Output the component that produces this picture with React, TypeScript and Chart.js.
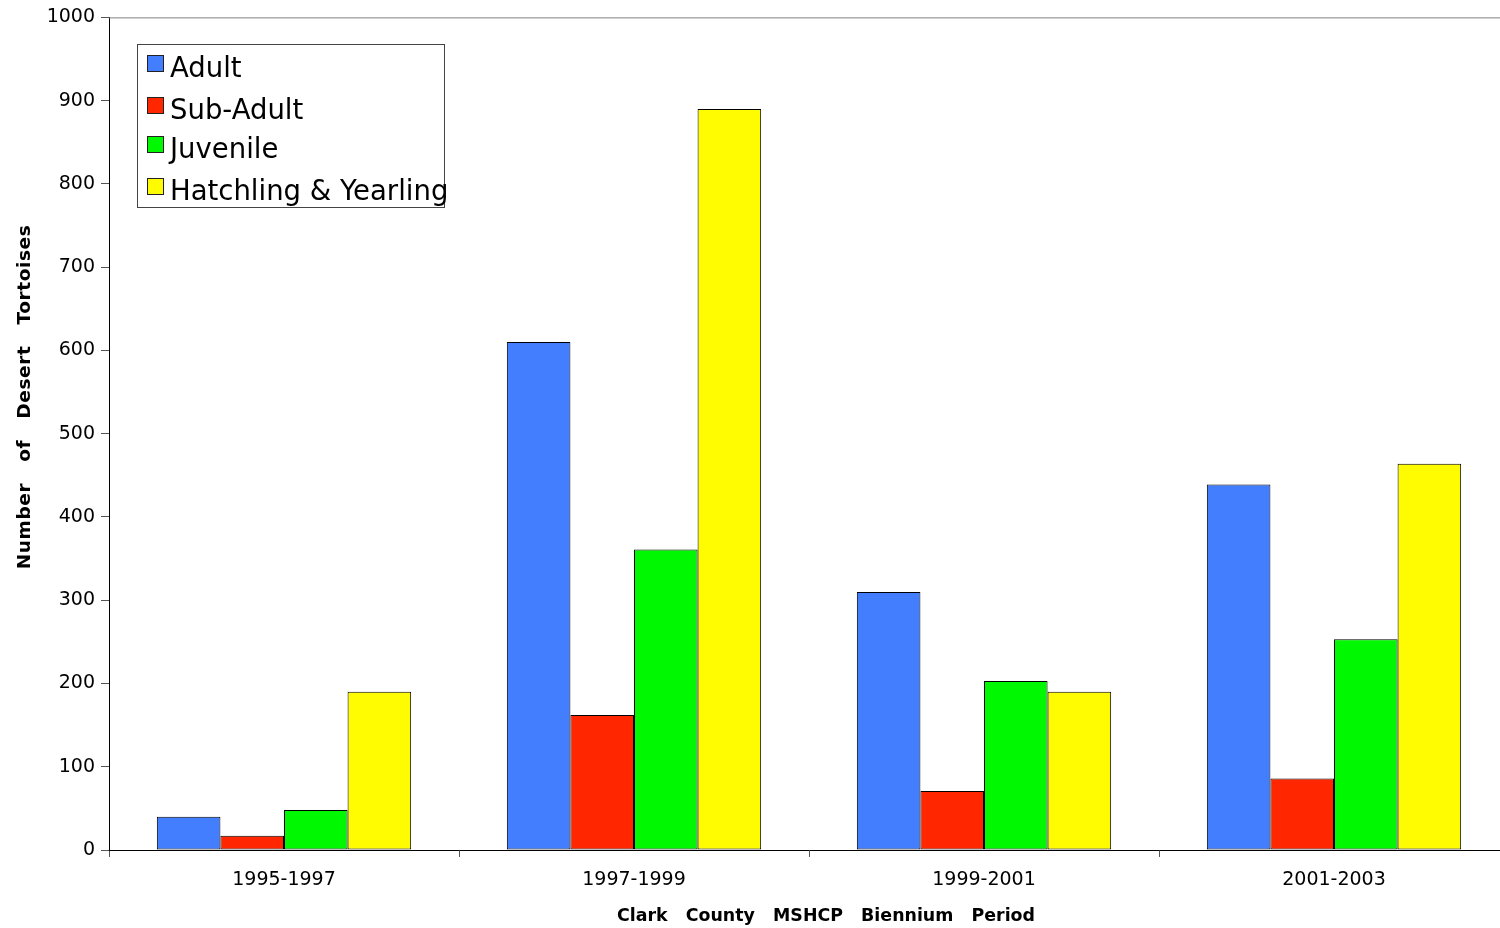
import React, { useEffect, useRef } from "react";
import { Chart, registerables } from "chart.js";

Chart.register(...registerables);

const categories = ["1995-1997", "1997-1999", "1999-2001", "2001-2003"];
const adult = [40, 610, 310, 439];
const subAdult = [17, 162, 71, 86];
const juvenile = [48, 361, 203, 253];
const hatchling = [190, 890, 190, 464];
const seriesNames = ["Adult", "Sub-Adult", "Juvenile", "Hatchling & Yearling"];
const seriesColors = ["#437EFF", "#FF2600", "#00F900", "#FFFB00"];
const yTicks = [0, 100, 200, 300, 400, 500, 600, 700, 800, 900, 1000];
const xTitle = "Clark   County   MSHCP   Biennium   Period";
const yTitle = "Number   of   Desert   Tortoises";

const FONT = "'DejaVu Sans', sans-serif";

const decorPlugin = {
  id: "decor",
  afterDraw(chart: any) {
    const ctx = chart.ctx;
    const area = chart.chartArea;
    ctx.save();
    // top border line
    ctx.strokeStyle = "#808080";
    ctx.lineWidth = 1;
    ctx.beginPath();
    ctx.moveTo(area.left, area.top + 0.5);
    ctx.lineTo(chart.width, area.top + 0.5);
    ctx.stroke();

    // legend
    const bx = 137, by = 44, bw = 307, bh = 163;
    ctx.fillStyle = "#ffffff";
    ctx.fillRect(bx, by, bw, bh);
    ctx.strokeStyle = "#444444";
    ctx.strokeRect(bx + 0.5, by + 0.5, bw, bh);
    const baselines = [77, 119, 158, 200];
    ctx.font = `27.5px ${FONT}`;
    ctx.textBaseline = "alphabetic";
    ctx.textAlign = "left";
    seriesNames.forEach((name, i) => {
      const sy = baselines[i] - 22;
      ctx.fillStyle = seriesColors[i];
      ctx.fillRect(147, sy, 16, 16);
      ctx.strokeStyle = "#222222";
      ctx.strokeRect(147.5, sy + 0.5, 16, 16);
      ctx.fillStyle = "#000000";
      ctx.fillText(name, 170, baselines[i]);
    });

    // axis titles
    ctx.fillStyle = "#000000";
    ctx.textAlign = "center";
    ctx.textBaseline = "middle";
    ctx.font = `bold 17.4px ${FONT}`;
    ctx.fillText(xTitle, 826, 916);
    ctx.font = `bold 18.5px ${FONT}`;
    try {
      (ctx as any).letterSpacing = "0.6px";
    } catch (e) {}
    ctx.translate(25, 397);
    ctx.rotate(-Math.PI / 2);
    ctx.fillText(yTitle, 0, 0);
    ctx.restore();
  },
};

export default function App() {
  const ref = useRef<HTMLCanvasElement>(null);
  useEffect(() => {
    const data = [adult, subAdult, juvenile, hatchling];
    const chart = new Chart(ref.current as HTMLCanvasElement, {
      type: "bar",
      data: {
        labels: categories,
        datasets: seriesNames.map((n, i) => ({
          label: n,
          data: data[i],
          backgroundColor: seriesColors[i],
          borderColor: "#000000",
          borderWidth: 1,
          borderSkipped: false,
          categoryPercentage: 0.7266,
          barPercentage: 1,
        })),
      },
      options: {
        responsive: false,
        animation: false,
        events: [],
        layout: { padding: { top: 17, right: 0, left: 0, bottom: 0 } },
        plugins: {
          legend: { display: false },
          tooltip: { enabled: false },
          title: { display: false },
        },
        scales: {
          x: {
            grid: {
              display: true,
              offset: true,
              drawOnChartArea: false,
              drawTicks: true,
              tickLength: 7,
              color: "#555555",
            },
            border: { display: true, color: "#000000", width: 1 },
            ticks: {
              color: "#000000",
              font: { family: FONT, size: 19 },
              padding: 12,
              maxRotation: 0,
            },
            afterFit(scale: any) {
              scale.height = 78;
            },
          },
          y: {
            min: 0,
            max: 1000,
            afterBuildTicks(scale: any) {
              scale.ticks = yTicks.map((v) => ({ value: v }));
            },
            grid: {
              display: true,
              drawOnChartArea: false,
              drawTicks: true,
              tickLength: 8,
              color: "#555555",
            },
            border: { display: true, color: "#000000", width: 1 },
            ticks: {
              color: "#000000",
              font: { family: FONT, size: 19 },
              padding: 6,
              callback: (v: any) => String(v),
            },
            afterFit(scale: any) {
              scale.width = 109;
            },
          },
        },
      },
      plugins: [decorPlugin],
    });
    return () => chart.destroy();
  }, []);
  return (
    <div style={{ position: "fixed", left: 0, top: 0, width: 1500, height: 928, background: "#fff", overflow: "hidden" }}>
      <canvas ref={ref} width={1509} height={928} style={{ display: "block" }} />
    </div>
  );
}
